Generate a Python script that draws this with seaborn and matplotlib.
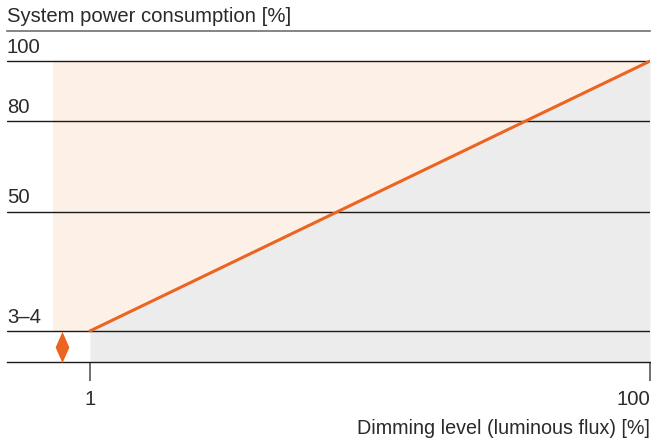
import matplotlib
matplotlib.use("Agg")
import matplotlib.pyplot as plt
import seaborn as sns
import pandas as pd

# data
dimming = [1, 100]           # dimming level (luminous flux) [%]
power = [10.3, 100]          # system power consumption, drawn on the chart's axis (3-4 level sits at 10.3)
level_values = [100, 80, 50, 10.3]
level_labels = ["100", "80", "50", "3–4"]
x_ticks = [1, 100]
x_tick_labels = ["1", "100"]

orange = "#EB6420"
peach = "#FDF0E6"
grey = "#ECECEC"
txt = "#2a2a2a"

sns.set_style("white")
plt.rcParams["font.family"] = ["Liberation Sans", "DejaVu Sans"]

fig = plt.figure(figsize=(6.51, 4.41), dpi=100)
ax = fig.add_axes([7 / 651, 1 - 362 / 441, 643 / 651, 331 / 441])

ax.set_xlim(-13.67, 100)
ax.set_ylim(0, 110)

# shaded areas
ax.fill_between([-5.5, 100], level_values[-1], 100, color=peach, lw=0, zorder=0)
df = pd.DataFrame({"dimming": dimming, "power": power})
ax.fill_between(df["dimming"], 0, df["power"], color=grey, lw=0, zorder=1)

# horizontal reference lines + labels
for v, lab in zip(level_values, level_labels):
    ax.axhline(v, color="#1a1a1a", lw=1.0, zorder=2)
    ax.annotate(lab, xy=(0, v), xycoords=("axes fraction", "data"),
                xytext=(0, 6), textcoords="offset points",
                ha="left", va="baseline", fontsize=14.6, color=txt)

sns.lineplot(data=df, x="dimming", y="power", color=orange, lw=2.2, ax=ax, zorder=3)

# double arrow marking the 3-4 % gap
arrow = [(0, 1), (0.44, 0), (0, -1), (-0.44, 0), (0, 1)]
ax.plot([-3.95], [level_values[-1] / 2], marker=arrow, markersize=22.5,
        color=orange, mew=0, zorder=4, clip_on=False)

# axes styling
for s in ["left", "right"]:
    ax.spines[s].set_visible(False)
ax.spines["top"].set_color("#707070")
ax.spines["top"].set_linewidth(1.2)
ax.spines["bottom"].set_color("#1a1a1a")
ax.spines["bottom"].set_linewidth(1.0)

ax.set_yticks([])
ax.set_xticks(x_ticks)
ax.set_xticklabels(x_tick_labels)
ax.get_xticklabels()[1].set_horizontalalignment("right")
ax.tick_params(axis="x", length=14, width=1.4, color="#707070", pad=6,
               labelsize=14.6, labelcolor=txt, bottom=True)
ax.set_xlabel("")
ax.set_ylabel("")

ax.annotate("System power consumption [%]", xy=(0, 1), xycoords="axes fraction",
            xytext=(0, 6.5), textcoords="offset points",
            ha="left", va="baseline", fontsize=14.6, color=txt)
fig.text(650 / 651, 1 - 428 / 441, "Dimming level (luminous flux) [%]",
         ha="right", va="center", fontsize=14.2, color=txt)

fig.savefig("out.png", dpi=100)
